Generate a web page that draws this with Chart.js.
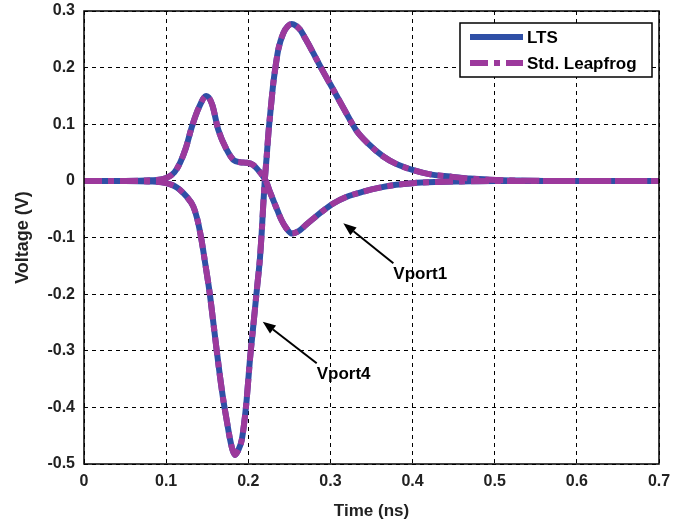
<!DOCTYPE html>
<html>
<head>
<meta charset="utf-8">
<script src="https://cdn.jsdelivr.net/npm/chart.js@4.4.1/dist/chart.umd.min.js"></script>
<style>
  body { margin: 0; background: #fff; }
  #wrap { width: 695px; height: 525px; }
</style>
</head>
<body>
<div id="wrap"><canvas id="chart" width="695" height="525"></canvas></div>
<script>
// values (time in ns, voltage in V)
var vport1Time = [0, 0.05, 0.08, 0.1, 0.11, 0.117, 0.124, 0.131, 0.14, 0.149, 0.156, 0.1635, 0.1737, 0.182, 0.19, 0.198, 0.206, 0.212, 0.218, 0.222, 0.2265, 0.231, 0.236, 0.2407, 0.246, 0.253, 0.262, 0.27, 0.279, 0.29, 0.3035, 0.32, 0.34, 0.36, 0.38, 0.40, 0.43, 0.46, 0.5, 0.7];
var vport1Volt = [0, 0, 0.001, 0.005, 0.015, 0.032, 0.058, 0.094, 0.13, 0.150, 0.135, 0.09, 0.055, 0.037, 0.033, 0.032, 0.028, 0.019, 0.008, -0.002, -0.02, -0.036, -0.054, -0.070, -0.083, -0.093, -0.088, -0.078, -0.067, -0.054, -0.040, -0.028, -0.019, -0.012, -0.007, -0.004, -0.002, -0.001, 0, 0];

var vport4Time = [0, 0.05, 0.08, 0.1, 0.11, 0.117, 0.125, 0.133, 0.138, 0.143, 0.148, 0.153, 0.157, 0.1615, 0.1655, 0.1696, 0.174, 0.178, 0.181, 0.1838, 0.187, 0.192, 0.195, 0.198, 0.202, 0.205, 0.208, 0.211, 0.214, 0.2163, 0.218, 0.220, 0.2225, 0.2245, 0.2275, 0.2305, 0.2335, 0.2365, 0.2427, 0.248, 0.2528, 0.258, 0.263, 0.27, 0.279, 0.29, 0.3035, 0.3238, 0.332, 0.345, 0.3644, 0.38, 0.401, 0.42, 0.4456, 0.47, 0.494, 0.53, 0.56, 0.7];
var vport4Volt = [0, 0, -0.001, -0.004, -0.009, -0.016, -0.028, -0.045, -0.068, -0.104, -0.150, -0.198, -0.245, -0.299, -0.345, -0.387, -0.425, -0.458, -0.476, -0.484, -0.478, -0.458, -0.428, -0.387, -0.316, -0.272, -0.228, -0.184, -0.140, -0.092, -0.048, -0.001, 0.045, 0.084, 0.130, 0.173, 0.205, 0.232, 0.261, 0.273, 0.277, 0.274, 0.267, 0.25, 0.226, 0.196, 0.161, 0.108, 0.088, 0.067, 0.043, 0.03, 0.019, 0.012, 0.0076, 0.004, 0.002, 0.0005, 0, 0];

var seriesNames = ['LTS', 'Std. Leapfrog'];
var xTicks = [0, 0.1, 0.2, 0.3, 0.4, 0.5, 0.6, 0.7];
var yTicks = [-0.5, -0.4, -0.3, -0.2, -0.1, 0, 0.1, 0.2, 0.3];

// labels with arrows: [text, arrow head x, head y, tail x, tail y]
var notes = [
  ['Vport1', 0.3157, -0.0747, 0.3766, -0.1454],
  ['Vport4', 0.2176, -0.2486, 0.2833, -0.322]
];

var blue = '#2f4fa6';
var purple = '#9c399c';
var dashDot = [18, 6, 6, 6];
var boldFont = "'Liberation Sans', Arial, sans-serif";

function pts(xs, ys) {
  return xs.map(function (x, i) { return { x: x, y: ys[i] }; });
}

function lineSet(label, data, color, dash, order) {
  return {
    label: label,
    data: data,
    borderColor: color,
    borderWidth: 6,
    borderDash: dash,
    borderCapStyle: 'butt',
    pointRadius: 0,
    cubicInterpolationMode: 'monotone',
    fill: false,
    order: order
  };
}

var frameAndNotes = {
  id: 'frameAndNotes',
  afterDraw: function (chart) {
    var ctx = chart.ctx, a = chart.chartArea;
    var xs = chart.scales.x, ys = chart.scales.y;
    ctx.save();
    ctx.strokeStyle = '#000';
    ctx.lineWidth = 1.5;
    ctx.setLineDash([]);
    ctx.strokeRect(a.left, a.top, a.right - a.left, a.bottom - a.top);

    // arrows and labels
    notes.forEach(function (n) {
      var hx = xs.getPixelForValue(n[1]), hy = ys.getPixelForValue(n[2]);
      var tx = xs.getPixelForValue(n[3]), ty = ys.getPixelForValue(n[4]);
      var ang = Math.atan2(hy - ty, hx - tx);
      var len = 13, w = 5;
      var bx = hx - len * Math.cos(ang), by = hy - len * Math.sin(ang);
      ctx.strokeStyle = '#000';
      ctx.lineWidth = 2;
      ctx.beginPath();
      ctx.moveTo(tx, ty);
      ctx.lineTo(bx, by);
      ctx.stroke();
      ctx.fillStyle = '#000';
      ctx.beginPath();
      ctx.moveTo(hx, hy);
      ctx.lineTo(bx + w * Math.sin(ang), by - w * Math.cos(ang));
      ctx.lineTo(bx - w * Math.sin(ang), by + w * Math.cos(ang));
      ctx.closePath();
      ctx.fill();
      ctx.font = 'bold 17px ' + boldFont;
      ctx.textAlign = 'left';
      ctx.textBaseline = 'middle';
      ctx.fillText(n[0], tx, ty + 11);
    });

    // legend box
    var lx = 460, ly = 23, lw = 192, lh = 54;
    ctx.fillStyle = '#fff';
    ctx.fillRect(lx, ly, lw, lh);
    ctx.strokeStyle = '#000';
    ctx.lineWidth = 1.5;
    ctx.strokeRect(lx, ly, lw, lh);
    var rows = [[seriesNames[0], blue, []], [seriesNames[1], purple, dashDot]];
    rows.forEach(function (r, i) {
      var y = ly + 14 + i * 26;
      ctx.strokeStyle = r[1];
      ctx.lineWidth = 6;
      ctx.lineCap = 'butt';
      ctx.setLineDash(r[2]);
      ctx.beginPath();
      ctx.moveTo(lx + 10, y);
      ctx.lineTo(lx + 63, y);
      ctx.stroke();
      ctx.setLineDash([]);
      ctx.fillStyle = '#000';
      ctx.font = 'bold 17px ' + boldFont;
      ctx.textAlign = 'left';
      ctx.textBaseline = 'middle';
      ctx.fillText(r[0], lx + 67, y + 1);
    });
    ctx.restore();
  }
};

new Chart(document.getElementById('chart').getContext('2d'), {
  type: 'line',
  data: {
    datasets: [
      lineSet(seriesNames[1], pts(vport1Time, vport1Volt), purple, dashDot, 0),
      lineSet(seriesNames[1], pts(vport4Time, vport4Volt), purple, dashDot, 0),
      lineSet(seriesNames[0], pts(vport1Time, vport1Volt), blue, [], 1),
      lineSet(seriesNames[0], pts(vport4Time, vport4Volt), blue, [], 1)
    ]
  },
  options: {
    responsive: false,
    animation: false,
    layout: { padding: { top: 11, right: 36, left: 0, bottom: 0 } },
    plugins: { legend: { display: false }, tooltip: { enabled: false } },
    scales: {
      x: {
        type: 'linear',
        min: xTicks[0],
        max: xTicks[xTicks.length - 1],
        afterBuildTicks: function (s) { s.ticks = xTicks.map(function (v) { return { value: v }; }); },
        afterFit: function (s) { s.height = 61; s.paddingLeft = 0; s.paddingRight = 0; },
        ticks: {
          color: '#222',
          padding: 8,
          maxRotation: 0,
          font: { family: boldFont, size: 16, weight: 'bold' },
          callback: function (v) { return String(Number(v.toFixed(1))); }
        },
        grid: { color: '#000', lineWidth: 1, drawTicks: false },
        border: { display: false, dash: [4, 4] },
        title: {
          display: true,
          text: 'Time (ns)',
          color: '#222',
          padding: { top: 0, bottom: 3 },
          font: { family: boldFont, size: 17, weight: 'bold' }
        }
      },
      y: {
        type: 'linear',
        min: yTicks[0],
        max: yTicks[yTicks.length - 1],
        afterBuildTicks: function (s) { s.ticks = yTicks.map(function (v) { return { value: v }; }); },
        afterFit: function (s) { s.width = 84; s.paddingTop = 0; s.paddingBottom = 0; },
        ticks: {
          color: '#222',
          padding: 9,
          font: { family: boldFont, size: 16, weight: 'bold' },
          callback: function (v) { return String(Number(v.toFixed(1))); }
        },
        grid: { color: '#000', lineWidth: 1, drawTicks: false },
        border: { display: false, dash: [4, 4] },
        title: {
          display: true,
          text: 'Voltage (V)',
          color: '#222',
          padding: { top: 12, bottom: 0 },
          font: { family: boldFont, size: 18, weight: 'bold' }
        }
      }
    }
  },
  plugins: [frameAndNotes]
});
</script>
</body>
</html>
